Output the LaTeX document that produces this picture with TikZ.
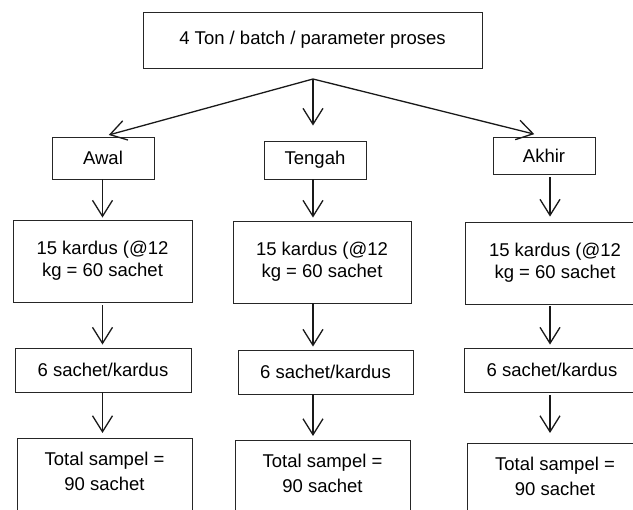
\documentclass[tikz,border=0pt]{standalone}
\usepackage{fontspec}
\setmainfont{Liberation Sans}
\usetikzlibrary{arrows.meta,calc}
\begin{document}
\begin{tikzpicture}[x=1pt,y=-1pt,
  box/.style={draw=black!85, line width=0.9pt, align=center, inner sep=0pt,
    font=\fontsize{18.5}{22}\selectfont},
  totalbox/.style={box, anchor=north, inner ysep=14pt, text depth=45pt,
    font=\fontsize{18.5}{25}\selectfont},
  arr/.style={draw=black!90, line width=1.3pt,
    -{Straight Barb[length=16pt,width=20pt,line width=1.3pt]}}]
\useasboundingbox (0,0) rectangle (633,510);
% top
\node[box, minimum width=339pt, minimum height=56pt] (top) at (312.5,40) {4 Ton / batch / parameter proses};
\coordinate (o) at (313,79);
% column coordinates
\coordinate (cA) at (102.5,0);
\coordinate (cB) at (313,0);
\coordinate (cC) at (550,0);
% level 1
\node[box, minimum width=102pt, minimum height=42pt] (awal) at (103,158) {Awal};
\node[box, minimum width=102pt, minimum height=38pt] (tengah) at (315,160) {Tengah};
\node[box, minimum width=102pt, minimum height=37pt] (akhir) at (544,155.5) {Akhir};
% level 2
\node[box, minimum width=179pt, minimum height=82pt] (kA) at (102.5,261) {15 kardus (@12\\kg = 60 sachet};
\node[box, minimum width=178pt, minimum height=82pt] (kB) at (322,262) {15 kardus (@12\\kg = 60 sachet};
\node[box, minimum width=180pt, minimum height=82pt] (kC) at (555,263) {15 kardus (@12\\kg = 60 sachet};
% level 3
\node[box, minimum width=176pt, minimum height=44pt] (sA) at (103,370) {6 sachet/kardus};
\node[box, minimum width=175pt, minimum height=44pt] (sB) at (325.5,372) {6 sachet/kardus};
\node[box, minimum width=175pt, minimum height=44pt] (sC) at (552,370) {6 sachet/kardus};
% level 4
\node[totalbox, minimum width=175pt] (tA) at (104.5,438) {Total sampel =\\90 sachet};
\node[totalbox, minimum width=175pt] (tB) at (322.5,440) {Total sampel =\\90 sachet};
\node[totalbox, minimum width=176pt] (tC) at (555,443) {Total sampel =\\90 sachet};
% top arrows
\draw[arr, shorten >=6pt] (o) -- (awal.north);
\draw[arr, shorten >=15pt] (o) -- (tengah.north -| cB);
\draw[arr, shorten >=10pt] (o) -- (akhir.north);
% column A
\draw[arr, shorten >=2pt] (awal.south -| cA) -- (kA.north -| cA);
\draw[arr, shorten <=3pt, shorten >=3pt] (kA.south -| cA) -- (sA.north -| cA);
\draw[arr, shorten >=5pt] (sA.south -| cA) -- (tA.north -| cA);
% column B
\draw[arr, shorten >=3pt] (tengah.south -| cB) -- (kB.north -| cB);
\draw[arr, shorten >=3pt] (kB.south -| cB) -- (sB.north -| cB);
\draw[arr, shorten >=4pt] (sB.south -| cB) -- (tB.north -| cB);
% column C
\draw[arr, shorten <=3pt, shorten >=5pt] (akhir.south -| cC) -- (kC.north -| cC);
\draw[arr, shorten <=2pt, shorten >=3pt] (kC.south -| cC) -- (sC.north -| cC);
\draw[arr, shorten <=3pt, shorten >=10pt] (sC.south -| cC) -- (tC.north -| cC);
\end{tikzpicture}
\end{document}
